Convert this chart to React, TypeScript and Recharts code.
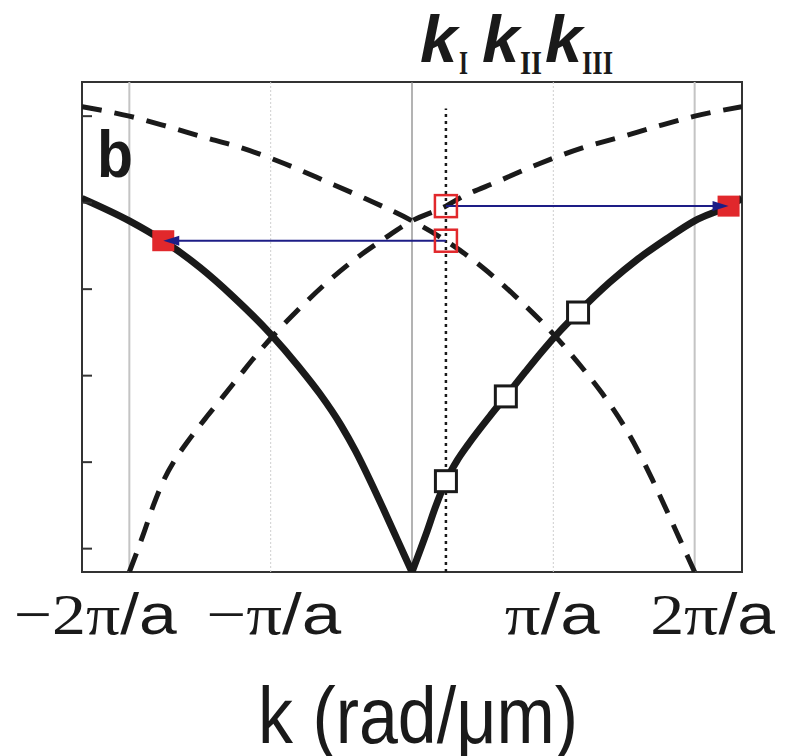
import React from "react";
import { ComposedChart, Line, Scatter, XAxis, YAxis, ReferenceLine, ReferenceArea } from "recharts";

// k in units of pi/a, frequency in arbitrary units
const kSolidLeft = [-2.335, -2.0, -1.76, -1.5, -1.27, -1.0, -0.8, -0.652, -0.5, -0.4, -0.3, -0.2, -0.1, 0];
const wSolidLeft = [4.32, 4.06, 3.83, 3.52, 3.19, 2.75, 2.37, 2.06, 1.69, 1.4, 1.07, 0.72, 0.36, 0];

const kSolidRight = [0, 0.1, 0.17, 0.24, 0.32, 0.4, 0.55, 0.664, 0.8, 0.92, 1.05, 1.175, 1.4, 1.6, 1.8, 2.0, 2.24, 2.335];
const wSolidRight = [0, 0.44, 0.77, 1.05, 1.29, 1.48, 1.8, 2.03, 2.31, 2.55, 2.79, 3.0, 3.35, 3.62, 3.85, 4.06, 4.23, 4.32];

// branch folded in from +2pi/a
const kFoldPlus = [-2.335, -2.0, -1.75, -1.5, -1.2, -0.9, -0.6, -0.335, 0, 0.24, 0.5, 0.73, 1.0, 1.2, 1.348, 1.5, 1.6, 1.7, 1.8, 1.9, 2.0];
const wFoldPlus = [5.38, 5.27, 5.16, 5.04, 4.9, 4.72, 4.51, 4.32, 4.06, 3.83, 3.52, 3.19, 2.75, 2.37, 2.06, 1.69, 1.4, 1.07, 0.72, 0.36, 0];

// branch folded in from -2pi/a
const kFoldMinus = [-2.0, -1.9, -1.83, -1.76, -1.68, -1.6, -1.45, -1.336, -1.2, -1.08, -0.95, -0.825, -0.6, -0.4, -0.2, 0, 0.24, 0.335, 0.6, 0.9, 1.2, 1.5, 1.75, 2.0, 2.335];
const wFoldMinus = [0, 0.44, 0.77, 1.05, 1.29, 1.48, 1.8, 2.03, 2.31, 2.55, 2.79, 3.0, 3.35, 3.62, 3.85, 4.06, 4.23, 4.32, 4.51, 4.72, 4.9, 5.04, 5.16, 5.27, 5.38];

const kModes = [0.24, 0.664, 1.175];
const wModes = [1.05, 2.03, 3.0];

const kScatterFrom = [0.24, 0.24];
const wScatterFrom = [3.83, 4.23];
const kScatterTo = [-1.76, 2.24];
const wScatterTo = [3.83, 4.23];

const kI = 0.24;
const wDottedTop = 5.36;

const xTicks = [-2, -1, 0, 1, 2];
const xTickLabels = ["\u22122\u03c0/a", "\u2212\u03c0/a", "", "\u03c0/a", "2\u03c0/a"];
const yTicks = [0.27, 1.27, 2.27, 3.27, 4.27, 5.27];

const X_DOMAIN: [number, number] = [-2.335, 2.335];
const Y_DOMAIN: [number, number] = [0, 5.665];

const pts = (ks: number[], ws: number[]) => ks.map((k, i) => ({ k, w: ws[i] }));

const solidLeft = pts(kSolidLeft, wSolidLeft);
const solidRight = pts(kSolidRight, wSolidRight);
const foldPlus = pts(kFoldPlus, wFoldPlus);
const foldMinus = pts(kFoldMinus, wFoldMinus);
const modes = pts(kModes, wModes);
const scatterFrom = pts(kScatterFrom, wScatterFrom);
const scatterTo = pts(kScatterTo, wScatterTo);
const arrows = scatterTo.map((p, i) => [scatterFrom[i], p]);
const heads = scatterTo.map((p, i) => ({ ...p, dir: Math.sign(p.k - scatterFrom[i].k) }));

const INK = "#1a1a1a";
const RED = "#e1282c";
const NAVY = "#1d1d86";
const SANS = "'Liberation Sans', Arial, sans-serif";
const SERIF = "'Liberation Serif', 'Times New Roman', serif";

// label placement and widths per tick
const tickDx: Record<number, number> = { [-2]: -34, [-1]: 3, 1: -1, 2: 18 };
const tickLen: Record<number, number> = { [-2]: 163, [-1]: 135, 1: 95, 2: 125 };

const XTick = (props: any) => {
  const { x, y, payload } = props;
  const v = payload.value as number;
  const label = xTickLabels[xTicks.indexOf(v)];
  if (!label) return <g />;
  const cut = label.indexOf("/");
  return (
    <text
      x={x + (tickDx[v] ?? 0)}
      y={y + 62}
      textAnchor="middle"
      fontSize={58}
      fill={INK}
      textLength={tickLen[v]}
      lengthAdjust="spacingAndGlyphs"
    >
      <tspan fontFamily={SERIF}>{label.slice(0, cut)}</tspan>
      <tspan fontFamily={SANS}>{label.slice(cut)}</tspan>
    </text>
  );
};

const NoTick = () => <g />;

const OpenSquare = (props: any) => {
  const { cx, cy } = props;
  return <rect x={cx - 10.5} y={cy - 10.5} width={21} height={21} fill="#fff" stroke={INK} strokeWidth={3} />;
};

const RedOpenSquare = (props: any) => {
  const { cx, cy } = props;
  return <rect x={cx - 11} y={cy - 11} width={22} height={22} fill="none" stroke={RED} strokeWidth={2.5} />;
};

const RedSquare = (props: any) => {
  const { cx, cy } = props;
  return <rect x={cx - 11} y={cy - 10.5} width={22} height={21} fill={RED} />;
};

const ArrowHead = (props: any) => {
  const { cx, cy, payload } = props;
  const d = payload.dir;
  return <polygon points={`${cx},${cy} ${cx - d * 16},${cy - 5} ${cx - d * 16},${cy + 5}`} fill={NAVY} />;
};

const KLabel = ({ x, sub, subX, subLen }: { x: number; sub: string; subX: number; subLen: number }) => (
  <g fill={INK}>
    <text x={x} y={62} fontFamily={SANS} fontWeight="bold" fontStyle="italic" fontSize={67}>k</text>
    <text x={subX} y={74} fontFamily={SERIF} fontWeight="bold" fontSize={34} textLength={subLen} lengthAdjust="spacingAndGlyphs">
      {sub}
    </text>
  </g>
);

export default function App() {
  return (
    <div style={{ position: "absolute", left: 0, top: 0, width: 786, height: 756, background: "#fff" }}>
      <ComposedChart width={786} height={756} margin={{ top: 82, right: 44, bottom: 84, left: 82 }}>
        <XAxis
          type="number"
          dataKey="k"
          domain={X_DOMAIN}
          ticks={xTicks}
          allowDataOverflow
          height={100}
          tickSize={0}
          tickMargin={0}
          tickLine={false}
          axisLine={false}
          tick={XTick}
        />
        <YAxis
          type="number"
          dataKey="w"
          domain={Y_DOMAIN}
          ticks={yTicks}
          allowDataOverflow
          width={1}
          mirror
          tickSize={10}
          tick={NoTick}
          axisLine={false}
          tickLine={{ stroke: "#333", strokeWidth: 2 }}
        />

        {/* zone boundaries and centre */}
        <ReferenceLine x={-2} stroke="#c4c4c4" strokeWidth={2} />
        <ReferenceLine x={2} stroke="#c4c4c4" strokeWidth={2} />
        <ReferenceLine x={-1} stroke="#cfcfcf" strokeWidth={1} strokeDasharray="2 2" />
        <ReferenceLine x={1} stroke="#cfcfcf" strokeWidth={1} strokeDasharray="2 2" />
        <ReferenceLine x={0} stroke="#8a8a8a" strokeWidth={1.3} />

        <ReferenceArea x1={X_DOMAIN[0]} x2={X_DOMAIN[1]} y1={Y_DOMAIN[0]} y2={Y_DOMAIN[1]} fill="none" stroke="#333" strokeWidth={2} />

        <ReferenceLine
          segment={[{ x: kI, y: 0 }, { x: kI, y: wDottedTop }]}
          stroke={INK}
          strokeWidth={2.5}
          strokeDasharray="3 4"
        />

        <Line data={foldPlus} dataKey="w" type="monotone" stroke={INK} strokeWidth={5} strokeDasharray="20 13" dot={false} isAnimationActive={false} />
        <Line data={foldMinus} dataKey="w" type="monotone" stroke={INK} strokeWidth={5} strokeDasharray="20 13" dot={false} isAnimationActive={false} />
        <Line data={solidLeft} dataKey="w" type="monotone" stroke={INK} strokeWidth={7} dot={false} isAnimationActive={false} />
        <Line data={solidRight} dataKey="w" type="monotone" stroke={INK} strokeWidth={7} dot={false} isAnimationActive={false} />

        <Scatter data={modes} dataKey="w" shape={OpenSquare} isAnimationActive={false} />
        <Scatter data={scatterFrom} dataKey="w" shape={RedOpenSquare} isAnimationActive={false} />
        <Scatter data={scatterTo} dataKey="w" shape={RedSquare} isAnimationActive={false} />

        {arrows.map((a, i) => (
          <Line key={i} data={a} dataKey="w" type="linear" stroke={NAVY} strokeWidth={2} dot={false} isAnimationActive={false} />
        ))}
        <Scatter data={heads} dataKey="w" shape={ArrowHead} isAnimationActive={false} />
      </ComposedChart>

      <svg width={786} height={756} style={{ position: "absolute", left: 0, top: 0, pointerEvents: "none" }}>
        <text x={97} y={177} fontFamily={SANS} fontWeight="bold" fontSize={66} fill={INK} textLength={36} lengthAdjust="spacingAndGlyphs">
          b
        </text>
        <KLabel x={420} sub="I" subX={459} subLen={9} />
        <KLabel x={482} sub="II" subX={520} subLen={22} />
        <KLabel x={545} sub="III" subX={582} subLen={31} />
        <text x={258} y={743} fontFamily={SANS} fontSize={80} fill={INK} textLength={320} lengthAdjust="spacingAndGlyphs">
          {"k (rad/\u03bcm)"}
        </text>
      </svg>
    </div>
  );
}
